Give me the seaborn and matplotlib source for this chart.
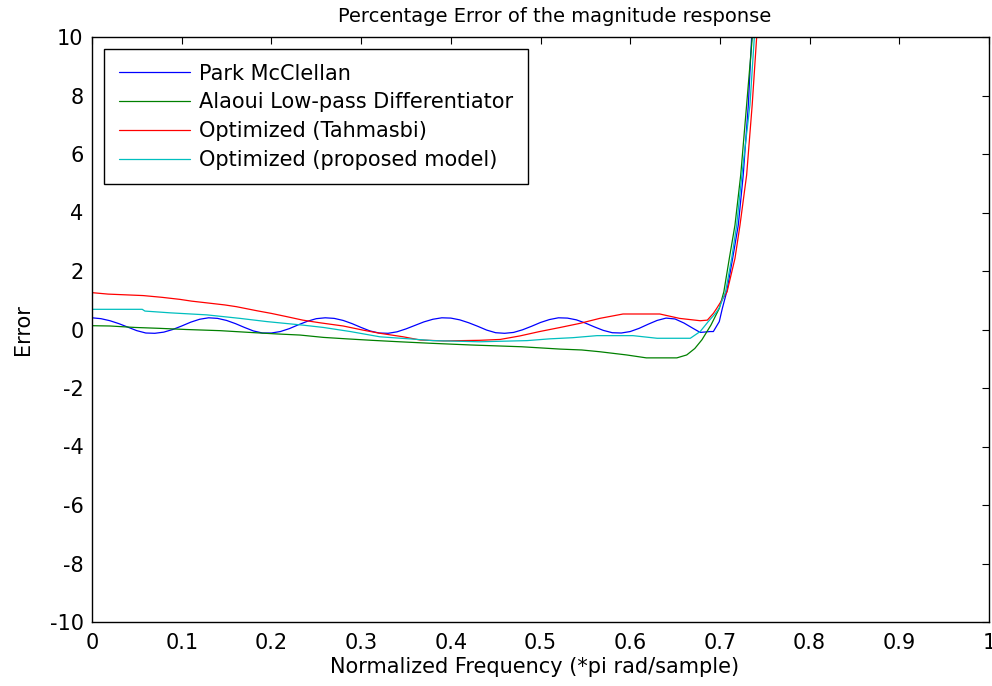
import matplotlib
matplotlib.use("Agg")
import matplotlib.pyplot as plt
import seaborn as sns
import pandas as pd
from matplotlib.ticker import FixedLocator, FixedFormatter

# ---------------- data ----------------
park_x = [0.00, 0.01, 0.02, 0.03, 0.04, 0.05, 0.06, 0.07, 0.08, 0.09,
          0.10, 0.11, 0.12, 0.13, 0.14, 0.15, 0.16, 0.17, 0.18, 0.19,
          0.20, 0.21, 0.22, 0.23, 0.24, 0.25, 0.26, 0.27, 0.28, 0.29,
          0.30, 0.31, 0.32, 0.33, 0.34, 0.35, 0.36, 0.37, 0.38, 0.39,
          0.40, 0.41, 0.42, 0.43, 0.44, 0.45, 0.46, 0.47, 0.48, 0.49,
          0.50, 0.51, 0.52, 0.53, 0.54, 0.55, 0.56, 0.57, 0.58, 0.59,
          0.60, 0.61, 0.62, 0.63, 0.64, 0.65, 0.66, 0.67, 0.678, 0.689,
          0.6927, 0.6993, 0.7027, 0.7076, 0.7142, 0.7205, 0.726, 0.7317,
          0.7354, 0.745]
park_y = [0.40, 0.37, 0.30, 0.20, 0.08, -0.04, -0.12, -0.13, -0.09, 0.00,
          0.12, 0.25, 0.35, 0.40, 0.38, 0.31, 0.20, 0.07, -0.05, -0.12,
          -0.12, -0.07, 0.03, 0.16, 0.28, 0.37, 0.40, 0.38, 0.31, 0.20,
          0.07, -0.05, -0.12, -0.13, -0.08, 0.02, 0.14, 0.26, 0.35, 0.40,
          0.39, 0.33, 0.23, 0.11, -0.02, -0.11, -0.13, -0.10, -0.01, 0.11,
          0.24, 0.34, 0.40, 0.39, 0.33, 0.22, 0.09, -0.03, -0.11, -0.12,
          -0.07, 0.04, 0.18, 0.31, 0.39, 0.36, 0.22, 0.04, -0.10, -0.07,
          -0.07, 0.27, 0.72, 1.29, 2.43, 3.57, 5.28, 7.68,
          10.0, 13.0]

alaoui_x = [0.000, 0.020, 0.048, 0.075, 0.105, 0.143, 0.176, 0.205, 0.232,
            0.258, 0.284, 0.312, 0.343, 0.377, 0.423, 0.479, 0.522, 0.546,
            0.566, 0.596, 0.618, 0.652, 0.663, 0.672, 0.680, 0.690, 0.6993,
            0.7044, 0.7105, 0.7168, 0.7232, 0.7298, 0.7361, 0.745]
alaoui_y = [0.13, 0.12, 0.07, 0.04, 0.00, -0.04, -0.10, -0.15, -0.19,
            -0.27, -0.32, -0.37, -0.42, -0.47, -0.53, -0.59, -0.67, -0.70,
            -0.76, -0.87, -0.97, -0.97, -0.87, -0.65, -0.35, 0.15, 0.72,
            1.29, 2.43, 3.57, 5.28, 7.68, 10.0, 13.0]

tahmasbi_x = [0.000, 0.018, 0.057, 0.078, 0.098, 0.111, 0.131, 0.148, 0.161,
              0.184, 0.200, 0.217, 0.235, 0.254, 0.280, 0.302, 0.321, 0.347,
              0.366, 0.392, 0.432, 0.455, 0.477, 0.499, 0.522, 0.544, 0.566,
              0.592, 0.633, 0.655, 0.678, 0.686, 0.6927, 0.6964, 0.708,
              0.7168, 0.7224, 0.7298, 0.7360, 0.741, 0.750]
tahmasbi_y = [1.26, 1.21, 1.16, 1.10, 1.03, 0.97, 0.90, 0.84, 0.78,
              0.64, 0.55, 0.44, 0.32, 0.23, 0.12, -0.02, -0.13, -0.25,
              -0.36, -0.39, -0.37, -0.34, -0.22, -0.07, 0.07, 0.21, 0.38,
              0.53, 0.53, 0.38, 0.30, 0.32, 0.55, 0.72, 1.29,
              2.43, 3.57, 5.28, 7.68, 10.0, 13.0]

proposed_x = [0.000, 0.056, 0.059, 0.087, 0.128, 0.165, 0.195, 0.235, 0.258,
              0.288, 0.321, 0.354, 0.380, 0.432, 0.485, 0.510, 0.536, 0.563,
              0.603, 0.630, 0.667, 0.678, 0.687, 0.695, 0.699, 0.7063,
              0.7131, 0.7187, 0.7245, 0.7335, 0.7384, 0.747]
proposed_y = [0.69, 0.69, 0.63, 0.57, 0.50, 0.38, 0.27, 0.15, 0.07,
              -0.07, -0.25, -0.32, -0.38, -0.42, -0.38, -0.32, -0.28, -0.21,
              -0.21, -0.30, -0.30, -0.07, 0.27, 0.55, 0.72, 1.29,
              2.43, 3.57, 5.28, 7.68, 10.0, 13.0]

series_names = ["Park McClellan", "Alaoui Low-pass Differentiator",
                "Optimized (Tahmasbi)", "Optimized (proposed model)"]
series_colors = ["#0000ff", "#008000", "#ff0000", "#00bfbf"]

x_ticks = [0, 0.1, 0.2, 0.3, 0.4, 0.5, 0.6, 0.7, 0.8, 0.9, 1.0]
x_tick_labels = ["0", "0.1", "0.2", "0.3", "0.4", "0.5", "0.6", "0.7", "0.8", "0.9", "1"]
y_ticks = [-10, -8, -6, -4, -2, 0, 2, 4, 6, 8, 10]
y_tick_labels = ["-10", "-8", "-6", "-4", "-2", "0", "2", "4", "6", "8", "10"]

title_text = "Percentage Error of the magnitude response"
xlabel_text = "Normalized Frequency (*pi rad/sample)"
ylabel_text = "Error"

# ---------------- plotting ----------------
sns.set_style("white")
plt.rcParams["font.family"] = ["DejaVu Sans"]
plt.rcParams["text.color"] = "black"
plt.rcParams["axes.labelcolor"] = "black"

fig = plt.figure(figsize=(9.92, 6.86), dpi=100)
ax = fig.add_axes([92 / 992, 1 - 622 / 686, 897 / 992, 585 / 686])

xs = [park_x, alaoui_x, tahmasbi_x, proposed_x]
ys = [park_y, alaoui_y, tahmasbi_y, proposed_y]
for name, col, xv, yv in zip(series_names, series_colors, xs, ys):
    df = pd.DataFrame({"x": xv, "y": yv})
    sns.lineplot(data=df, x="x", y="y", ax=ax, color=col, label=name,
                 linewidth=0.9, sort=False, estimator=None)

ax.set_xlim(0, 1)
ax.set_ylim(-10, 10)
ax.xaxis.set_major_locator(FixedLocator(x_ticks))
ax.xaxis.set_major_formatter(FixedFormatter(x_tick_labels))
ax.yaxis.set_major_locator(FixedLocator(y_ticks))
ax.yaxis.set_major_formatter(FixedFormatter(y_tick_labels))
ax.tick_params(direction="in", length=5, width=0.8, color="black",
               top=True, right=True, labelsize=15, labelcolor="black")
ax.tick_params(axis="x", pad=8)
ax.tick_params(axis="y", pad=6)

for sp in ax.spines.values():
    sp.set_color("black")
    sp.set_linewidth(1.0)
    sp.set_visible(True)

ax.set_title(title_text, fontsize=14, pad=11, color="black",
             x=(554.5 - 92) / 897)
ax.set_xlabel(xlabel_text, fontsize=15, labelpad=4, color="black")
ax.xaxis.set_label_coords((534.5 - 92) / 897, -0.06)
ax.xaxis.label.set_verticalalignment("top")
ax.set_ylabel(ylabel_text, fontsize=15, labelpad=12, color="black")

leg = ax.legend(loc="upper left", bbox_to_anchor=(12 / 897, 1 - 12 / 585),
                borderaxespad=0, fontsize=15, frameon=True, fancybox=False,
                framealpha=1, edgecolor="black", handlelength=3.45,
                handletextpad=0.43, labelspacing=0.42, borderpad=0.7)
leg.get_frame().set_linewidth(1.0)
for line in leg.get_lines():
    line.set_linewidth(0.9)
for t in leg.get_texts():
    t.set_color("black")

fig.savefig("out.png", dpi=100)
